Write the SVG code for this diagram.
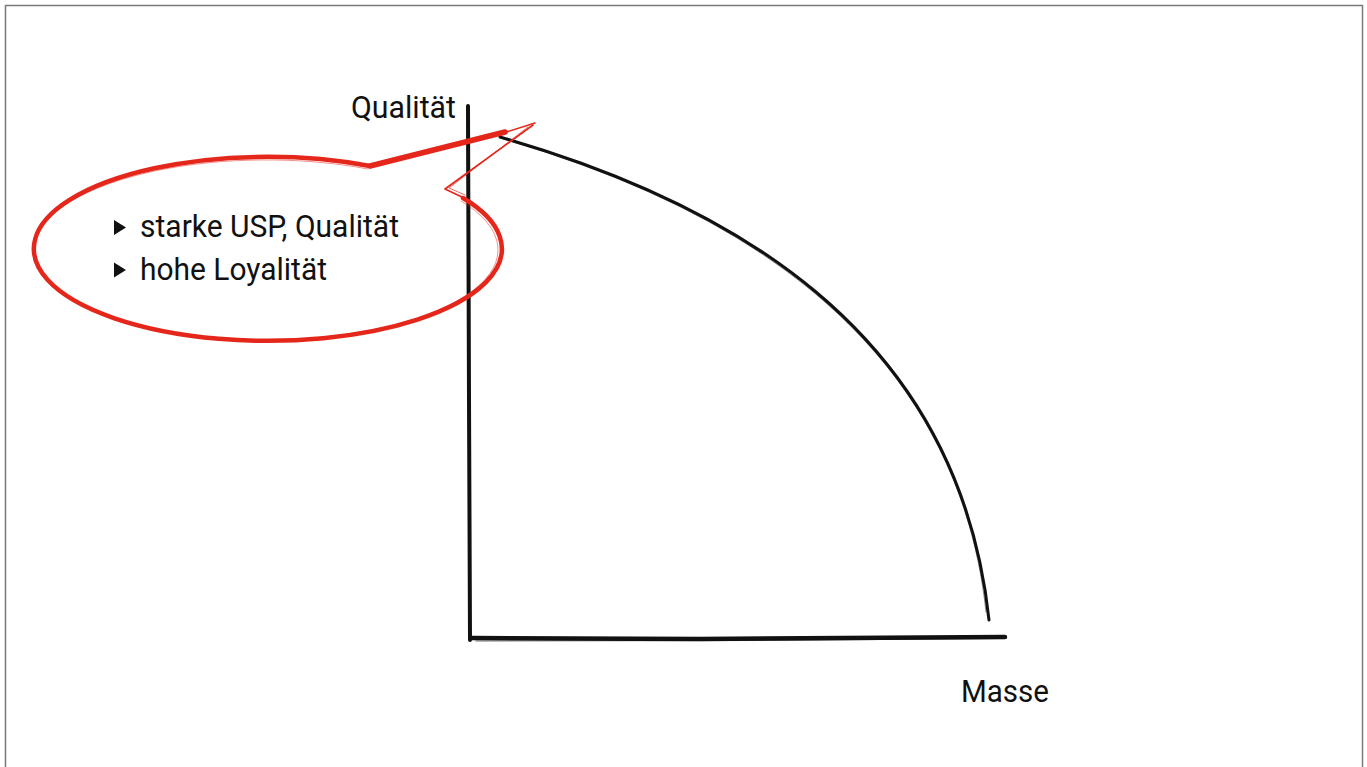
<svg xmlns="http://www.w3.org/2000/svg" width="1367" height="767" viewBox="0 0 1367 767">
  <style>
    .lbl { font-family: Roboto, "Liberation Sans", sans-serif; font-size: 31px; fill: #111; }
    .ink { fill: none; stroke: #111; stroke-linecap: round; stroke-linejoin: round; }
    .red { fill: none; stroke: #e5261a; stroke-linecap: round; stroke-linejoin: round; }
    .bullet { fill: #111; }
  </style>
  <rect x="5.5" y="5.5" width="1357" height="800" fill="#fff" stroke="#7a7a7a" stroke-width="1.5"/>

  <g id="axes">
    <path class="ink" d="M468,106 L469,400 L470,640" stroke-width="4"/>
    <path class="ink" d="M467,108 L468.5,420 L469,636" stroke-width="1" opacity="0.6"/>
    <path class="ink" d="M472,638 L700,639 L1005,637" stroke-width="4.5"/>
    <path class="ink" d="M476,641 L760,640.5 L1000,638.5" stroke-width="1" opacity="0.6"/>
  </g>

  <g id="curve">
    <path class="ink" d="M500,137 C720,200 958,325 989,620" stroke-width="3"/>
    <path class="ink" d="M503,139 C722,203 956,330 986,612" stroke-width="1" opacity="0.5"/>
  </g>

  <g id="bubble">
    <path class="red" d="M463,198 A234,92 0 1 1 370,166" stroke-width="4.5"/>
    <path class="red" d="M461,201 A232,90 0 1 1 368,169" stroke-width="1" opacity="0.5"/>
    <path class="red" d="M370,166 L505,132" stroke-width="5.5"/>
    <path class="red" d="M500,134 L535,123" stroke-width="1.5"/>
    <path class="red" d="M533,125 L445,189 L464,198" stroke-width="1.6"/>
    <path class="red" d="M528,127 L449,188 L465,195" stroke-width="1" opacity="0.7"/>
    <polygon class="bullet" points="114,220 126,227.5 114,235"/>
    <polygon class="bullet" points="114,262.5 126,270 114,277.5"/>
    <text class="lbl" x="140" y="237" textLength="259" lengthAdjust="spacingAndGlyphs">starke USP, Qualität</text>
    <text class="lbl" x="140" y="280" textLength="187" lengthAdjust="spacingAndGlyphs">hohe Loyalität</text>
  </g>

  <g id="label-quality">
    <text class="lbl" x="351" y="118" textLength="105" lengthAdjust="spacingAndGlyphs">Qualität</text>
  </g>
  <g id="label-mass">
    <text class="lbl" x="961" y="702" textLength="88" lengthAdjust="spacingAndGlyphs">Masse</text>
  </g>
</svg>
